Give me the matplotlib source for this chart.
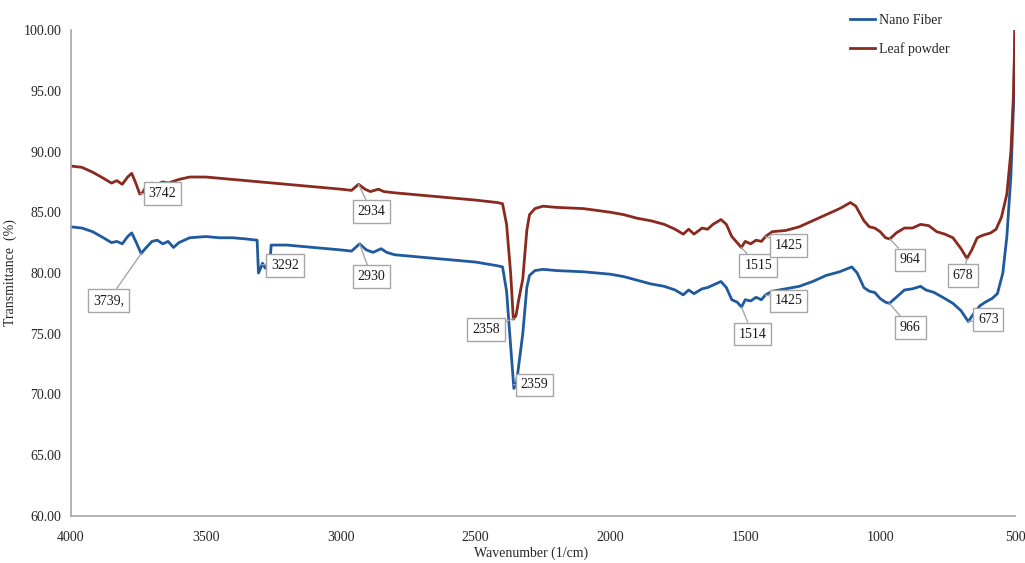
import numpy as np
import matplotlib.pyplot as plt

# Espectros FTIR: número de onda (1/cm) y transmitancia (%)
onda_hoja = np.array([4000, 3960, 3920, 3880, 3850, 3830, 3810, 3790, 3775, 3760,
                      3745, 3735, 3720, 3700, 3680, 3660, 3640, 3600, 3560, 3500,
                      3450, 3400, 3300, 3200, 3100, 3000, 2960, 2934, 2910, 2890,
                      2860, 2840, 2800, 2700, 2600, 2500, 2420, 2400, 2385, 2370,
                      2360, 2350, 2340, 2325, 2310, 2300, 2280, 2250, 2200, 2100,
                      2000, 1950, 1900, 1850, 1800, 1760, 1730, 1710, 1690, 1660,
                      1640, 1620, 1590, 1570, 1550, 1530, 1515, 1500, 1480, 1460,
                      1440, 1425, 1400, 1350, 1300, 1250, 1200, 1150, 1110, 1090,
                      1060, 1040, 1020, 1000, 980, 964, 940, 910, 880, 850,
                      820, 790, 760, 730, 700, 678, 660, 640, 620, 590,
                      570, 550, 530, 515, 505, 500])
trans_hoja = np.array([88.8, 88.7, 88.3, 87.8, 87.4, 87.6, 87.3, 87.9, 88.2, 87.4,
                       86.5, 86.6, 87.2, 87.4, 87.3, 87.5, 87.4, 87.7, 87.9, 87.9,
                       87.8, 87.7, 87.5, 87.3, 87.1, 86.9, 86.8, 87.3, 86.9, 86.7,
                       86.9, 86.7, 86.6, 86.4, 86.2, 86.0, 85.8, 85.7, 84.0, 80.0,
                       76.2, 76.5, 77.8, 79.5, 83.5, 84.8, 85.3, 85.5, 85.4, 85.3,
                       85.0, 84.8, 84.5, 84.3, 84.0, 83.6, 83.2, 83.6, 83.2, 83.7,
                       83.6, 84.0, 84.4, 84.0, 83.0, 82.5, 82.1, 82.6, 82.4, 82.7,
                       82.6, 83.0, 83.4, 83.5, 83.8, 84.3, 84.8, 85.3, 85.8, 85.5,
                       84.3, 83.8, 83.7, 83.4, 82.9, 82.8, 83.3, 83.7, 83.7, 84.0,
                       83.9, 83.4, 83.2, 82.9, 82.0, 81.2, 81.9, 82.9, 83.1, 83.3,
                       83.6, 84.6, 86.5, 90.0, 95.0, 100.0])

onda_fibra = np.array([4000, 3960, 3920, 3880, 3850, 3830, 3810, 3790, 3775, 3760,
                       3740, 3725, 3700, 3680, 3660, 3640, 3620, 3600, 3560, 3500,
                       3450, 3400, 3350, 3310, 3305, 3295, 3290, 3280, 3270, 3262,
                       3258, 3240, 3200, 3100, 3000, 2960, 2930, 2905, 2880, 2850,
                       2830, 2800, 2700, 2600, 2500, 2420, 2400, 2385, 2370, 2358,
                       2348, 2340, 2325, 2310, 2300, 2280, 2250, 2200, 2100, 2000,
                       1950, 1900, 1850, 1800, 1760, 1730, 1710, 1690, 1660, 1640,
                       1620, 1590, 1570, 1550, 1530, 1514, 1500, 1480, 1460, 1440,
                       1425, 1400, 1350, 1300, 1250, 1200, 1150, 1105, 1085, 1060,
                       1040, 1020, 1000, 980, 966, 940, 910, 880, 850, 830,
                       800, 760, 730, 700, 673, 655, 630, 610, 585, 565,
                       545, 530, 515, 505, 500])
trans_fibra = np.array([83.8, 83.7, 83.4, 82.9, 82.5, 82.6, 82.4, 83.0, 83.3, 82.6,
                        81.6, 82.0, 82.6, 82.7, 82.4, 82.6, 82.1, 82.5, 82.9, 83.0,
                        82.9, 82.9, 82.8, 82.7, 80.0, 80.5, 80.8, 80.4, 80.9, 81.0,
                        82.3, 82.3, 82.3, 82.1, 81.9, 81.8, 82.4, 81.9, 81.7, 82.0,
                        81.7, 81.5, 81.3, 81.1, 80.9, 80.6, 80.5, 78.5, 74.0, 70.5,
                        71.0, 72.4, 75.0, 78.8, 79.8, 80.2, 80.3, 80.2, 80.1, 79.9,
                        79.7, 79.4, 79.1, 78.9, 78.6, 78.2, 78.6, 78.3, 78.7, 78.8,
                        79.0, 79.3, 78.8, 77.8, 77.6, 77.2, 77.8, 77.7, 78.0, 77.8,
                        78.2, 78.5, 78.7, 78.9, 79.3, 79.8, 80.1, 80.5, 80.0, 78.8,
                        78.5, 78.4, 77.9, 77.6, 77.5, 78.0, 78.6, 78.7, 78.9, 78.6,
                        78.4, 77.9, 77.5, 76.9, 76.0, 76.6, 77.3, 77.6, 77.9, 78.3,
                        80.0, 83.0, 88.0, 94.0, 100.0])

# Picos marcados en cada espectro
picos_hoja = ["3742", "2934", "2358", "1515", "1425", "964", "678"]
picos_fibra = ["3739,", "3292", "2930", "2359", "1514", "1425", "966", "673"]

# Desplazamiento de cada etiqueta (pixeles)
desp_hoja = [(22, 0), (13, -27), (-28, -11), (17, -18), (23, -9), (20, -21), (-4, -17)]
desp_fibra = [(-33, -47), (23, -1), (12, -33), (21, 0), (11, -27), (23, -6), (21, -24), (20, 2)]

azul = "#1f5a9e"
rojo = "#8a2a1e"
gris = "#a6a6a6"
texto = "#262626"
plt.rcParams["font.family"] = ["Liberation Serif", "DejaVu Serif"]

fig = plt.figure(figsize=(10.25, 5.63), dpi=100)
ax = fig.add_axes([0.0693, 0.0835, 0.9209, 0.8632])

ax.plot(onda_fibra, trans_fibra, color=azul, lw=2.0, label="Nano Fiber")
ax.plot(onda_hoja, trans_hoja, color=rojo, lw=2.0, label="Leaf powder")


def etiquetar(picos, desp, onda, trans):
    for txt, (dx, dy) in zip(picos, desp):
        w = float(txt.rstrip(","))
        v = np.interp(w, onda[::-1], trans[::-1])
        ax.annotate(txt, xy=(w, v), xytext=(dx, dy), textcoords="offset pixels",
                    ha="center", va="center", fontsize=10, color="#1a1a1a",
                    bbox=dict(boxstyle="square,pad=0.35", fc="white", ec=gris, lw=1.0),
                    arrowprops=dict(arrowstyle="-", color=gris, lw=1.0,
                                    shrinkA=0, shrinkB=0))


etiquetar(picos_hoja, desp_hoja, onda_hoja, trans_hoja)
etiquetar(picos_fibra, desp_fibra, onda_fibra, trans_fibra)

ax.set_xlim(4000, 500)
ax.set_ylim(60, 100)
ax.set_xticks(np.arange(4000, 499, -500))
ax.set_yticks(np.arange(60, 100.1, 5))
ax.set_yticklabels([f"{v:.2f}" for v in np.arange(60, 100.1, 5)])
ax.tick_params(length=0, labelsize=10, labelcolor=texto)
ax.tick_params(axis="y", pad=7)
ax.tick_params(axis="x", pad=11)
for lado in ["top", "right"]:
    ax.spines[lado].set_visible(False)
for lado in ["left", "bottom"]:
    ax.spines[lado].set_color(gris)
    ax.spines[lado].set_linewidth(1.2)

ax.set_xlabel("Wavenumber (1/cm)", fontsize=10, color=texto)
ax.xaxis.set_label_coords(0.487, -0.062)
ax.set_ylabel("Transmittance  (%)", fontsize=10, color=texto)
ax.yaxis.set_label_coords(-0.057, 0.5)

ax.legend(loc="upper left", bbox_to_anchor=(0.817, 0.997), bbox_transform=fig.transFigure,
          frameon=False, fontsize=10, handlelength=1.8, handletextpad=0.3,
          labelspacing=1.05, labelcolor=texto)

plt.savefig("out.png", dpi=100)
